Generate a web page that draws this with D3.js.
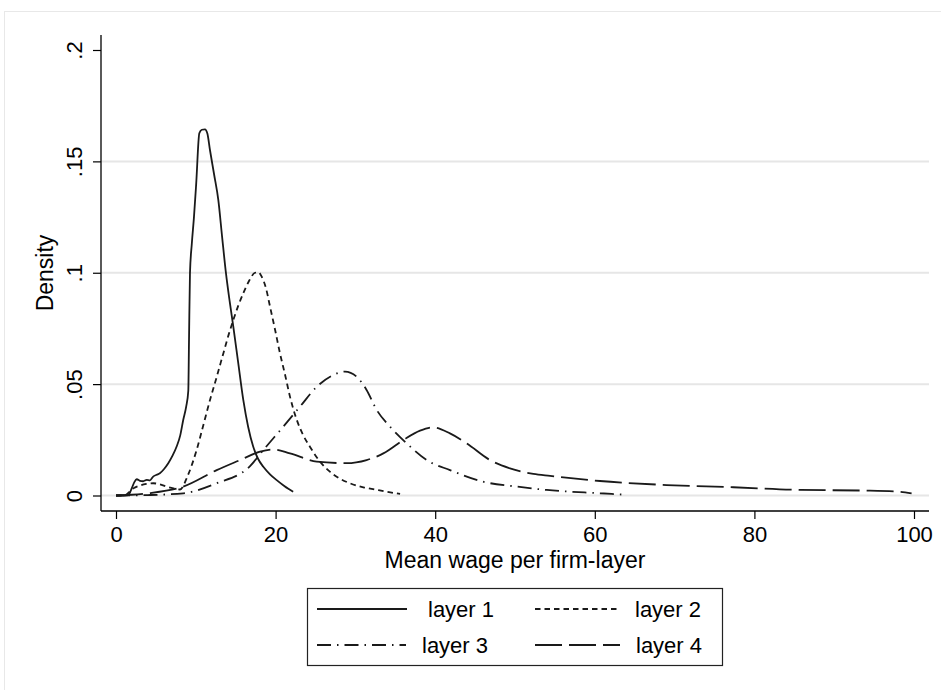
<!DOCTYPE html>
<html>
<head>
<meta charset="utf-8">
<script src="https://cdn.jsdelivr.net/npm/d3@7"></script>
<style>
  html, body { margin: 0; padding: 0; background: #fff; }
  svg { display: block; }
  text { font-family: "Liberation Sans", Arial, Helvetica, sans-serif; fill: #000; }
</style>
</head>
<body>
<div id="chart"></div>
<script>
// ---------------- data ----------------
const seriesNames = ["layer 1", "layer 2", "layer 3", "layer 4"];

const layer1X = [0, 1.0, 1.55, 1.97, 2.3, 2.6, 3.0, 3.4, 3.85, 4.25, 4.66, 5.1, 5.5, 6.0, 6.55, 7.1, 7.6, 8.05, 8.43, 8.8, 9.06, 9.15, 9.27, 9.5, 9.77, 10.05, 10.44, 10.75, 11.15, 11.45, 11.78, 12.3, 12.82, 13.3, 13.78, 14.25, 14.7, 15.3, 15.95, 16.55, 17.2, 17.8, 18.46, 19.3, 20.1, 21.0, 21.6, 22.2];
const layer1Y = [0, 0, 0.0002, 0.0032, 0.006, 0.0073, 0.0066, 0.0064, 0.007, 0.0068, 0.0085, 0.0093, 0.0100, 0.0118, 0.0145, 0.018, 0.022, 0.027, 0.034, 0.040, 0.047, 0.07, 0.0998, 0.113, 0.125, 0.140, 0.1626, 0.1642, 0.1644, 0.1625, 0.155, 0.144, 0.1327, 0.116, 0.0998, 0.087, 0.0758, 0.060, 0.0429, 0.031, 0.0219, 0.0165, 0.0129, 0.0095, 0.007, 0.0045, 0.003, 0.0017];

const layer2X = [0, 1.0, 1.5, 2.17, 3.0, 3.8, 4.67, 5.5, 6.35, 7.2, 8.02, 9.0, 10.1, 10.9, 11.78, 12.6, 13.45, 14.1, 14.7, 15.3, 15.95, 16.7, 17.42, 17.85, 18.26, 18.8, 19.3, 19.9, 20.55, 21.2, 21.8, 22.6, 23.4, 24.3, 25.5, 26.8, 28.0, 29.3, 31.0, 32.7, 34.2, 35.6];
const layer2Y = [0, 0, 0.001, 0.0032, 0.0045, 0.0052, 0.0055, 0.005, 0.004, 0.0032, 0.0027, 0.009, 0.0204, 0.031, 0.0429, 0.053, 0.0638, 0.072, 0.0788, 0.085, 0.0908, 0.0965, 0.1000, 0.1002, 0.0982, 0.093, 0.0848, 0.075, 0.0638, 0.054, 0.0444, 0.0345, 0.0275, 0.0219, 0.0155, 0.0107, 0.0077, 0.0055, 0.0037, 0.0025, 0.0015, 0.0007];

const layer3X = [0, 4.0, 8.43, 12.62, 16.8, 18.46, 20.96, 23.06, 25.15, 27.23, 28.7, 30.16, 31.4, 32.67, 34.34, 36.43, 38.93, 41.85, 46.0, 50.2, 53.97, 60.65, 63.57];
const layer3Y = [0, 0.0002, 0.001, 0.0055, 0.0132, 0.0204, 0.0309, 0.0399, 0.0488, 0.0541, 0.0556, 0.0533, 0.0474, 0.0384, 0.0309, 0.0234, 0.0159, 0.0114, 0.0062, 0.004, 0.0025, 0.001, 0.0004];

const layer4X = [0, 4.0, 8.43, 12.62, 15.54, 18.05, 19.7, 21.8, 25.15, 28.9, 31.4, 33.5, 36.0, 38.1, 39.76, 41.85, 43.95, 46.87, 49.37, 52.3, 54.4, 60.65, 69.0, 77.36, 85.7, 94.1, 98.2, 99.7];
const layer4Y = [0, 0.001, 0.004, 0.0114, 0.0159, 0.0197, 0.0207, 0.0189, 0.0152, 0.0145, 0.0159, 0.0189, 0.0249, 0.0291, 0.0306, 0.0279, 0.0234, 0.0159, 0.0122, 0.0097, 0.0088, 0.0065, 0.0047, 0.0037, 0.0025, 0.0022, 0.0017, 0.001];

const xTickValues = [0, 20, 40, 60, 80, 100];
const xTickLabels = ["0", "20", "40", "60", "80", "100"];
const yTickValues = [0, 0.05, 0.1, 0.15, 0.2];
const yTickLabels = ["0", ".05", ".1", ".15", ".2"];
const yGridValues = [0, 0.05, 0.1, 0.15];
const xTitle = "Mean wage per firm-layer";
const yTitle = "Density";

// ---------------- layout ----------------
const W = 941, H = 690;
const plotLeft = 101, plotRight = 929, plotTop = 35, plotBottom = 511;
const dashes = ["none", "5.5,4", "14,6,1.5,6", "27,7"];

const svg = d3.select("#chart").append("svg").attr("width", W).attr("height", H);
svg.append("rect").attr("width", W).attr("height", H).attr("fill", "#fff");
// outer graph-region frame (light)
svg.append("rect").attr("x", 4.5).attr("y", 11.5).attr("width", 960).attr("height", 700)
  .attr("fill", "none").attr("stroke", "#e8e8e8").attr("stroke-width", 1);

const x = d3.scaleLinear().domain([0, 100]).range([116, 914]);
const y = d3.scaleLinear().domain([0, 0.2]).range([495.5, 50]);

// gridlines
svg.append("g").selectAll("line").data(yGridValues).join("line")
  .attr("x1", plotLeft).attr("x2", plotRight)
  .attr("y1", d => y(d)).attr("y2", d => y(d))
  .attr("stroke", "#e6e6e6").attr("stroke-width", 2);

// curves
const series = [
  {name: seriesNames[0], xs: layer1X, ys: layer1Y},
  {name: seriesNames[1], xs: layer2X, ys: layer2Y},
  {name: seriesNames[2], xs: layer3X, ys: layer3Y},
  {name: seriesNames[3], xs: layer4X, ys: layer4Y}
];
const line = d3.line().x(d => x(d[0])).y(d => y(d[1])).curve(d3.curveMonotoneX);
svg.append("g").selectAll("path").data(series).join("path")
  .attr("d", s => line(s.xs.map((v, i) => [v, s.ys[i]])))
  .attr("fill", "none").attr("stroke", "#1a1a1a").attr("stroke-width", 1.8)
  .attr("stroke-dasharray", (s, i) => dashes[i]);

// y axis
const yAxis = d3.axisLeft(y).tickValues(yTickValues)
  .tickFormat((d, i) => yTickLabels[i]).tickSize(8).tickPadding(11);
const gy = svg.append("g").attr("transform", `translate(${plotLeft},0)`).call(yAxis);
gy.select(".domain").remove();
gy.selectAll(".tick line").attr("stroke", "#000").attr("stroke-width", 1.2);
gy.selectAll(".tick text")
  .attr("font-size", 22).attr("font-family", "Liberation Sans, Arial, sans-serif")
  .attr("text-anchor", "middle").attr("x", null).attr("dy", null)
  .attr("transform", "translate(-19,0) rotate(-90)");
svg.append("line").attr("x1", plotLeft).attr("x2", plotLeft)
  .attr("y1", plotTop).attr("y2", plotBottom).attr("stroke", "#000").attr("stroke-width", 1.3);

// x axis
const xAxis = d3.axisBottom(x).tickValues(xTickValues)
  .tickFormat((d, i) => xTickLabels[i]).tickSize(8).tickPadding(6);
const gx = svg.append("g").attr("transform", `translate(0,${plotBottom})`).call(xAxis);
gx.select(".domain").remove();
gx.selectAll(".tick line").attr("stroke", "#000").attr("stroke-width", 1.2);
gx.selectAll(".tick text").attr("font-size", 22)
  .attr("font-family", "Liberation Sans, Arial, sans-serif")
  .attr("y", 31).attr("dy", null);
svg.append("line").attr("x1", plotLeft).attr("x2", plotRight)
  .attr("y1", plotBottom).attr("y2", plotBottom).attr("stroke", "#000").attr("stroke-width", 1.3);

// titles
svg.append("text").attr("x", (plotLeft + plotRight) / 2).attr("y", 568)
  .attr("text-anchor", "middle").attr("font-size", 23).text(xTitle);
svg.append("text").attr("transform", `translate(53,${(plotTop + plotBottom) / 2}) rotate(-90)`)
  .attr("text-anchor", "middle").attr("font-size", 23).text(yTitle);

// legend
const lg = svg.append("g");
lg.append("rect").attr("x", 307.5).attr("y", 588.5).attr("width", 415).attr("height", 77)
  .attr("fill", "#fff").attr("stroke", "#222").attr("stroke-width", 1.2);
const legendPos = [
  {lx1: 317, lx2: 407, ly: 609, tx: 428},
  {lx1: 535, lx2: 620, ly: 609, tx: 635},
  {lx1: 317, lx2: 406, ly: 645, tx: 422},
  {lx1: 535, lx2: 620, ly: 645, tx: 636}
];
const items = lg.selectAll("g.item").data(series).join("g").attr("class", "item");
items.append("line")
  .attr("x1", (d, i) => legendPos[i].lx1).attr("x2", (d, i) => legendPos[i].lx2)
  .attr("y1", (d, i) => legendPos[i].ly).attr("y2", (d, i) => legendPos[i].ly)
  .attr("stroke", "#1a1a1a").attr("stroke-width", 1.8)
  .attr("stroke-dasharray", (d, i) => dashes[i]);
items.append("text")
  .attr("x", (d, i) => legendPos[i].tx).attr("y", (d, i) => legendPos[i].ly + 8)
  .attr("font-size", 22).text(d => d.name);
</script>
</body>
</html>
